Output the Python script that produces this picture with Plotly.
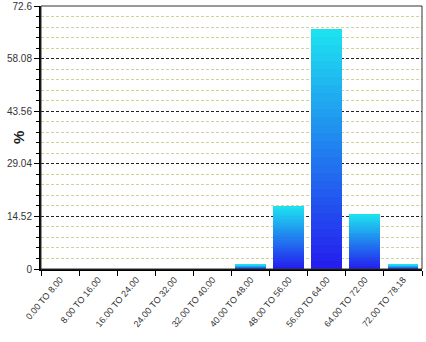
import plotly.graph_objects as go

categories = ["0.00 TO 8.00", "8.00 TO 16.00", "16.00 TO 24.00", "24.00 TO 32.00",
              "32.00 TO 40.00", "40.00 TO 48.00", "48.00 TO 56.00", "56.00 TO 64.00",
              "64.00 TO 72.00", "72.00 TO 78.18"]
percent = [0, 0, 0, 0, 0, 1.2, 17.4, 66.2, 15.3, 1.2]
y_tickvals = [0, 14.52, 29.04, 43.56, 58.08, 72.6]
y_ticktext = ["0", "14.52", "29.04", "43.56", "58.08", "72.6"]

N = 30
bottom_rgb = (36, 28, 238)
top_rgb = (30, 228, 240)

fig = go.Figure()
for k in range(N):
    t = (k + 0.5) / N
    c = tuple(int(round(bottom_rgb[i] + (top_rgb[i] - bottom_rgb[i]) * t)) for i in range(3))
    fig.add_trace(go.Bar(
        x=categories, y=[v / N for v in percent],
        marker=dict(color="rgb(%d,%d,%d)" % c, line=dict(width=0)),
        showlegend=False, hoverinfo="skip"))

fig.update_layout(
    barmode="stack", bargap=0.19,
    width=426, height=342,
    margin=dict(l=41, r=4, t=6, b=73),
    paper_bgcolor="white", plot_bgcolor="white",
    font=dict(family="Liberation Sans, Arial", size=10, color="#333"),
    xaxis=dict(type="category", tickson="boundaries", ticks="outside", ticklen=5,
               tickcolor="black", tickwidth=1, tickangle=-50, automargin=False,
               showline=True, linecolor="black", linewidth=2, showgrid=False,
               tickfont=dict(size=9, color="#333")),
    yaxis=dict(range=[0, 72.6], tickvals=y_tickvals, ticktext=y_ticktext,
               ticks="outside", ticklen=5, tickcolor="black", automargin=False,
               showline=True, linecolor="black", linewidth=2,
               showgrid=True, gridcolor="#222", griddash="3px,2px", gridwidth=1,
               zeroline=False,
               minor=dict(dtick=2.904, tick0=0, ticks="outside", ticklen=3,
                          tickcolor="black", showgrid=True,
                          gridcolor="#D2D296", griddash="3px,2px", gridwidth=1),
               tickfont=dict(size=10, color="#333")),
    shapes=[dict(type="rect", xref="paper", yref="paper", x0=0, x1=1, y0=0, y1=1,
                 line=dict(color="#333", width=1), layer="above")],
    annotations=[dict(text="<b>%</b>", xref="paper", yref="paper", x=0, y=0.5,
                      xshift=-33, showarrow=False, textangle=-90,
                      font=dict(size=15, color="#222"))],
)

fig.write_html("out.html")
